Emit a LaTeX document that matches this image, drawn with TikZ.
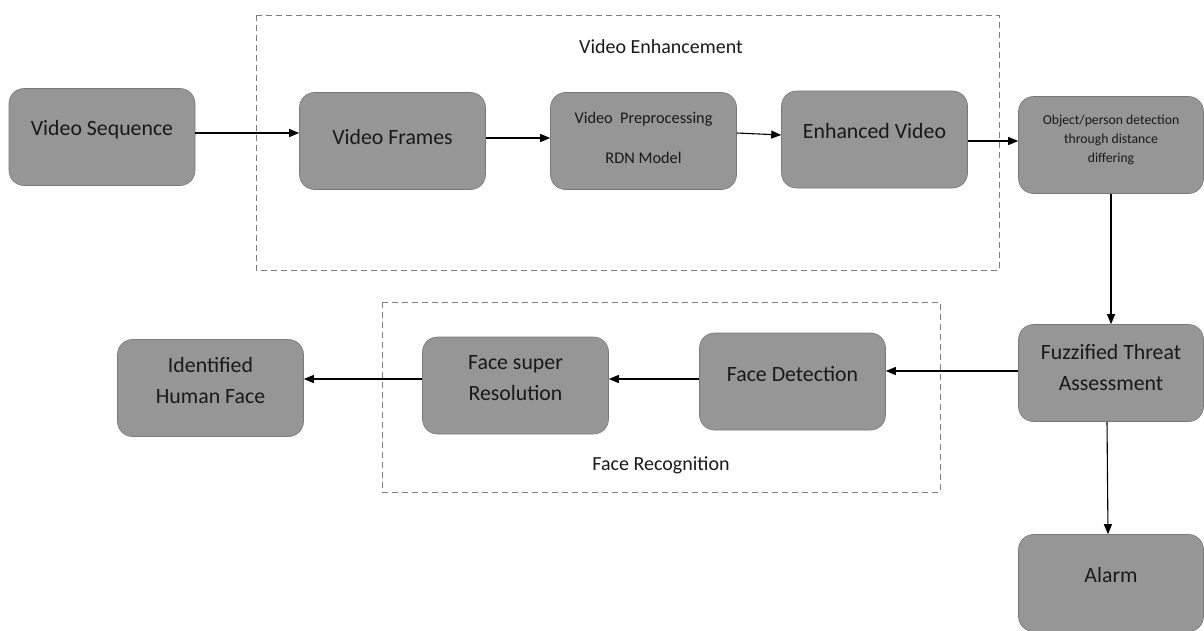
\documentclass[tikz,border=0pt]{standalone}
\usepackage{fontspec}
\setmainfont{Carlito}
\usetikzlibrary{arrows.meta}
\definecolor{boxfill}{RGB}{150,150,150}
\definecolor{boxline}{RGB}{120,120,120}
\definecolor{frameline}{RGB}{125,125,125}
\begin{document}
\begin{tikzpicture}[x=1pt,y=-1pt,
  box/.style={draw=boxline,line width=0.6pt,fill=boxfill,rounded corners=15pt,
    minimum width=186pt,minimum height=97pt,inner sep=0pt},
  % multi-line texts are placed by the baseline of their last line
  txt/.style={anchor=base,align=center,text=black!90,inner sep=0pt},
  big/.style={font=\fontsize{21.8}{30.5}\selectfont},
  lbl/.style={font=\fontsize{20}{24}\selectfont},
  mid/.style={font=\fontsize{16.3}{40}\selectfont},
  small/.style={font=\fontsize{13.7}{19}\selectfont},
  arr/.style={draw=black,line width=1.1pt,-{Triangle[length=10pt,width=8pt]}},
  frame/.style={draw=frameline,line width=1pt,dash pattern=on 6pt off 4pt}]
\useasboundingbox (0,0) rectangle (1204,630);
\fill[white] (0,0) rectangle (1204,630);

% dashed group frames
\draw[frame] (256,15) rectangle (999,270);
\draw[frame] (382,302) rectangle (940,492);
\node[txt,lbl] (enhlbl) at (661,53) {Video Enhancement};
\node[txt,lbl] (reclbl) at (661,470) {Face Recognition};

% process boxes
\node[box] (vs) at (102,137) {};
\node[box] (vf) at (392.5,141) {};
\node[box] (vp) at (643.5,141) {};
\node[box] (ev) at (874.5,139.5) {};
\node[box,minimum width=185pt] (od) at (1111,145) {};
\node[box,minimum width=185pt] (ft) at (1111,373) {};
\node[box,minimum width=185pt] (al) at (1111,583) {};
\node[box] (fd) at (792.5,381.5) {};
\node[box] (fs) at (515.5,385.5) {};
\node[box] (ih) at (210.5,388) {};

% box texts
\node[txt,big] (vs-t) at (102,135) {Video Sequence};
\node[txt,big] (vf-t) at (392.5,144) {Video Frames};
\node[txt,mid] (vp-t) at (643.5,163) {Video~ Preprocessing\\RDN Model};
\node[txt,big] (ev-t) at (874.5,138) {Enhanced Video};
\node[txt,small] (od-t) at (1111,162) {Object/person detection\\through distance\\differing};
\node[txt,big] (ft-t) at (1111,390) {Fuzzified Threat\\Assessment};
\node[txt,big] (al-t) at (1111,582) {Alarm};
\node[txt,big] (fd-t) at (792.5,381) {Face Detection};
\node[txt,big] (fs-t) at (515.5,400) {Face super\\Resolution};
\node[txt,big] (ih-t) at (210.5,403) {Identified\\Human Face};

% connectors
\draw[arr] ([yshift=4pt]vs.east) -- ([yshift=4pt]vs.east -| vf.west);
\draw[arr] ([yshift=3pt]vf.east) -- ([yshift=3pt]vf.east -| vp.west);
\draw[arr] ([yshift=8pt]vp.east) -- ([yshift=4.5pt]ev.west);
\draw[arr] ([yshift=-1.5pt]ev.east) -- ([yshift=-1.5pt]ev.east -| od.west);
\draw[arr] (od.south) -- (ft.north);
\draw[arr] ([yshift=2pt]ft.west) -- ([yshift=2pt]ft.west -| fd.east);
\draw[arr] ([xshift=-4pt]ft.south) -- ([xshift=-3pt]al.north);
\draw[arr] ([yshift=2.5pt]fd.west) -- ([yshift=2.5pt]fd.west -| fs.east);
\draw[arr] ([yshift=6.5pt]fs.west) -- ([yshift=6.5pt]fs.west -| ih.east);
\end{tikzpicture}
\end{document}
